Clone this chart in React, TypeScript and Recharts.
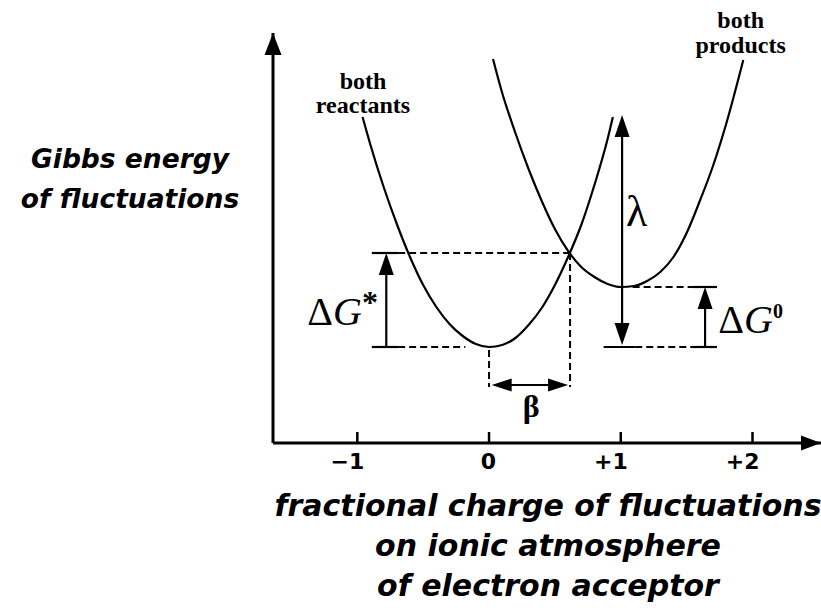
import React from 'react';
import { LineChart, Line, XAxis, YAxis, ReferenceLine, ReferenceDot } from 'recharts';

// curves: charge (x) and Gibbs energy (arbitrary units)
const reactantCharge = [-0.96, -0.9, -0.8, -0.7, -0.6, -0.5, -0.4, -0.3, -0.2, -0.1, 0, 0.1, 0.2, 0.3, 0.4, 0.5, 0.6, 0.7, 0.8, 0.9, 0.94];
const reactantEnergy = [3.26, 2.98, 2.56, 2.19, 1.86, 1.58, 1.36, 1.19, 1.07, 0.99, 0.96, 0.98, 1.05, 1.18, 1.35, 1.58, 1.86, 2.18, 2.58, 3.04, 3.26];
const productCharge = [0.03, 0.1, 0.2, 0.3, 0.4, 0.5, 0.6, 0.7, 0.8, 0.9, 1.0, 1.1, 1.2, 1.3, 1.4, 1.5, 1.6, 1.7, 1.8, 1.93];
const productEnergy = [3.84, 3.5, 3.1, 2.74, 2.42, 2.14, 1.92, 1.76, 1.66, 1.59, 1.56, 1.57, 1.62, 1.71, 1.86, 2.1, 2.42, 2.77, 3.19, 3.83];

const chargeTicks = [-1, 0, 1, 2];
const tickLabels = ['\u22121', '0', '+1', '+2'];

// levels used by the annotations
const reactantMin = 0.96;
const productMin = 1.56;
const crossingEnergy = 1.9;
const crossingCharge = 0.615;
const lambdaTop = 3.28;
const lambdaCharge = 1.01;

const reactants = reactantCharge.map((x, i) => ({ x, e: reactantEnergy[i] }));
const products = productCharge.map((x, i) => ({ x, e: productEnergy[i] }));

const X_DOMAIN: [number, number] = [-1.64, 2.52];
const Y_DOMAIN: [number, number] = [0, 4.1];

const serif = '"Liberation Serif", "Times New Roman", serif';
const sans = '"DejaVu Sans", sans-serif';

const head = (dir: 'up' | 'down' | 'left' | 'right', len = 22, half = 7.5) => (p: any) => {
  const { cx, cy } = p;
  let pts = '';
  if (dir === 'up') pts = `${cx},${cy} ${cx - half},${cy + len} ${cx + half},${cy + len}`;
  if (dir === 'down') pts = `${cx},${cy} ${cx - half},${cy - len} ${cx + half},${cy - len}`;
  if (dir === 'left') pts = `${cx},${cy} ${cx + len},${cy - half} ${cx + len},${cy + half}`;
  if (dir === 'right') pts = `${cx},${cy} ${cx - len},${cy - half} ${cx - len},${cy + half}`;
  return <polygon points={pts} fill="#000" />;
};

// tick mark points up into the plot; digit sits centred on the tick, sign hangs left
const ChargeTick = ({ x, y, payload }: any) => {
  const i = chargeTicks.indexOf(payload.value);
  return (
    <g>
      <line x1={x} x2={x} y1={y - 11} y2={y} stroke="#000" strokeWidth={2.5} />
      <text x={x + 7} y={y + 26} textAnchor="end" fontFamily={sans} fontWeight="bold" fontSize={22}>{tickLabels[i]}</text>
    </g>
  );
};

const seg = (x1: number, y1: number, x2: number, y2: number, dashed = false, w = 2.2) => (
  <ReferenceLine
    segment={[{ x: x1, y: y1 }, { x: x2, y: y2 }]}
    stroke="#000"
    strokeWidth={w}
    strokeDasharray={dashed ? '7 4' : undefined}
    ifOverflow="visible"
  />
);

const dot = (x: number, y: number, shape: any) => (
  <ReferenceDot x={x} y={y} r={0} shape={shape} ifOverflow="visible" />
);

export default function App() {
  return (
    <div style={{ position: 'absolute', left: 0, top: 0, width: 821, height: 615, background: '#fff' }}>
      <LineChart width={821} height={615} margin={{ top: 33, right: 0, left: 273, bottom: 142 }}>
        <XAxis
          type="number"
          dataKey="x"
          domain={X_DOMAIN}
          ticks={chargeTicks}
          allowDataOverflow
          height={30}
          tickSize={0}
          tickMargin={0}
          tickLine={false}
          axisLine={{ stroke: '#000', strokeWidth: 3 }}
          tick={<ChargeTick />}
        />
        <YAxis type="number" dataKey="e" domain={Y_DOMAIN} allowDataOverflow hide />
        <ReferenceLine x={X_DOMAIN[0]} stroke="#000" strokeWidth={3} />

        {/* axis arrowheads */}
        {dot(X_DOMAIN[1], 0, head('right', 20, 7.5))}
        {dot(X_DOMAIN[0], Y_DOMAIN[1], head('up', 22, 8.5))}

        <Line data={reactants} dataKey="e" type="monotone" stroke="#000" strokeWidth={2.2} dot={false} isAnimationActive={false} />
        <Line data={products} dataKey="e" type="monotone" stroke="#000" strokeWidth={2.2} dot={false} isAnimationActive={false} />

        {/* ΔG* */}
        {seg(-0.89, crossingEnergy, -0.69, crossingEnergy)}
        {seg(-0.69, crossingEnergy, crossingCharge, crossingEnergy, true, 2)}
        {seg(-0.89, reactantMin, -0.69, reactantMin)}
        {seg(-0.69, reactantMin, -0.18, reactantMin, true, 2)}
        {seg(-0.78, reactantMin, -0.78, crossingEnergy - 0.1)}
        {dot(-0.78, crossingEnergy, head('up', 22, 7.5))}

        {/* β */}
        {seg(0, 0.93, 0, 0.56, true, 2)}
        {seg(crossingCharge, crossingEnergy, crossingCharge, 0.56, true, 2)}
        {seg(0.1, 0.58, 0.52, 0.58)}
        {dot(0.02, 0.58, head('left', 20, 6.5))}
        {dot(0.6, 0.58, head('right', 20, 6.5))}

        {/* λ */}
        {seg(lambdaCharge, reactantMin + 0.12, lambdaCharge, lambdaTop - 0.1)}
        {dot(lambdaCharge, lambdaTop, head('up', 22, 7.5))}
        {dot(lambdaCharge, reactantMin + 0.02, head('down', 22, 7.5))}
        {seg(0.87, reactantMin, 1.11, reactantMin)}

        {/* ΔG0 */}
        {seg(1.11, reactantMin, 1.54, reactantMin, true, 2)}
        {seg(1.54, reactantMin, 1.73, reactantMin)}
        {seg(1.09, productMin, 1.54, productMin, true, 2)}
        {seg(1.54, productMin, 1.73, productMin)}
        {seg(1.64, reactantMin, 1.64, productMin - 0.1)}
        {dot(1.64, productMin, head('up', 22, 7.5))}

        {/* labels */}
        {dot(-1.38, 1.18, (p: any) => (
          <text x={p.cx} y={p.cy} fontFamily={serif} fontSize={40}>
            <tspan>Δ</tspan>
            <tspan fontStyle="italic">G</tspan>
            <tspan fontWeight="bold" fontSize={32} dy={-12}>*</tspan>
          </text>
        ))}
        {dot(1.74, 1.1, (p: any) => (
          <text x={p.cx} y={p.cy} fontFamily={serif} fontSize={40}>
            <tspan>Δ</tspan>
            <tspan fontStyle="italic">G</tspan>
            <tspan fontWeight="bold" fontSize={20} dy={-15}>0</tspan>
          </text>
        ))}
        {dot(1.04, 2.17, (p: any) => (
          <text x={p.cx} y={p.cy} fontFamily={serif} fontSize={44}>λ</text>
        ))}
        {dot(0.32, 0.26, (p: any) => (
          <text x={p.cx} y={p.cy} textAnchor="middle" fontFamily={serif} fontWeight="bold" fontSize={32}>β</text>
        ))}
        {dot(-0.957, 3.3, (p: any) => (
          <text x={p.cx} y={p.cy} textAnchor="middle" fontFamily={serif} fontWeight="bold" fontSize={24}>
            <tspan x={p.cx} dy={-24}>both</tspan>
            <tspan x={p.cx} dy={24}>reactants</tspan>
          </text>
        ))}
        {dot(1.91, 3.9, (p: any) => (
          <text x={p.cx} y={p.cy} textAnchor="middle" fontFamily={serif} fontWeight="bold" fontSize={24}>
            <tspan x={p.cx} dy={-25}>both</tspan>
            <tspan x={p.cx} dy={25}>products</tspan>
          </text>
        ))}
      </LineChart>

      <svg width={821} height={615} style={{ position: 'absolute', left: 0, top: 0, pointerEvents: 'none' }}>
        <g fontFamily={sans} fontWeight="bold" fontStyle="italic" textAnchor="middle">
          <text x={130} y={168} fontSize={26.5}>Gibbs energy</text>
          <text x={130} y={208} fontSize={26.5}>of fluctuations</text>
          <text x={548} y={516} fontSize={30}>fractional charge of fluctuations</text>
          <text x={548} y={556} fontSize={30}>on ionic atmosphere</text>
          <text x={548} y={596} fontSize={30}>of electron acceptor</text>
        </g>
      </svg>
    </div>
  );
}
